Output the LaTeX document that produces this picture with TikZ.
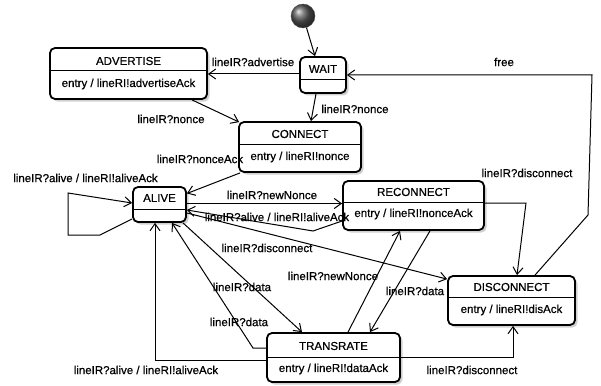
\documentclass[tikz,border=0pt]{standalone}
\usepackage{fontspec}
\setmainfont{Liberation Sans}[FakeBold=0.6]
\usetikzlibrary{arrows.meta,shadows}

\begin{document}
\begin{tikzpicture}[x=1pt,y=-1pt,
  font=\fontsize{11.5}{13}\selectfont,
  state/.style={draw, line width=1.8pt, rounded corners=5pt, fill=white,
    drop shadow={shadow xshift=2.5pt, shadow yshift=-2.5pt, fill=black!30, opacity=0.6},
    inner sep=0pt},
  sep/.style={line width=1pt},
  tr/.style={draw, line width=1pt, -{Straight Barb[length=7pt,width=10pt,line width=1pt]}},
  lbl/.style={inner sep=1pt},
]
\useasboundingbox (0,0) rectangle (601,385);

% initial pseudo-state
\node[circle, minimum size=24pt, inner sep=0pt, shading=ball, ball color=black!65, draw=black!70] (init) at (303,16) {};

% states
\node[state, minimum width=46pt,  minimum height=36pt] (wait)  at (323,75) {};
\node[state, minimum width=157pt, minimum height=51pt] (adv)   at (128.5,73.5) {};
\node[state, minimum width=122pt, minimum height=50pt] (conn)  at (300,147) {};
\node[state, minimum width=53pt,  minimum height=35pt] (alive) at (159.5,204.5) {};
\node[state, minimum width=141pt, minimum height=49pt] (recon) at (413.5,205.5) {};
\node[state, minimum width=127pt, minimum height=49pt] (disc)  at (511.5,300.5) {};
\node[state, minimum width=133pt, minimum height=49pt] (trans) at (333.5,357.5) {};

% compartment separators
\draw[sep] (wait.west |- 0,80)   -- (wait.east |- 0,80);
\draw[sep] (adv.west |- 0,71)    -- (adv.east |- 0,71);
\draw[sep] (conn.west |- 0,144)  -- (conn.east |- 0,144);
\draw[sep] (alive.west |- 0,209) -- (alive.east |- 0,209);
\draw[sep] (recon.west |- 0,202) -- (recon.east |- 0,202);
\draw[sep] (disc.west |- 0,297)  -- (disc.east |- 0,297);
\draw[sep] (trans.west |- 0,357) -- (trans.east |- 0,357);

% state names and entry actions
\node[lbl] (waitN)  at (323,69)     {WAIT};
\node[lbl] (advN)   at (128.5,61)   {ADVERTISE};
\node[lbl] (advE)   at (128.5,84)   {entry / lineRI!advertiseAck};
\node[lbl] (connN)  at (300,134)    {CONNECT};
\node[lbl] (connE)  at (300,157)    {entry / lineRI!nonce};
\node[lbl] (aliveN) at (159.5,198)  {ALIVE};
\node[lbl] (reconN) at (413.5,192)  {RECONNECT};
\node[lbl] (reconE) at (413.5,214)  {entry / lineRI!nonceAck};
\node[lbl] (discN)  at (511.5,287)  {DISCONNECT};
\node[lbl] (discE)  at (511.5,310)  {entry / lineRI!disAck};
\node[lbl] (transN) at (333.5,346)  {TRANSRATE};
\node[lbl] (transE) at (333.5,369)  {entry / lineRI!dataAck};

% transitions
\draw[tr] (init) -- ([xshift=-8pt]wait.north);
\draw[tr] (wait.west |- 0,74) -- (adv.east |- 0,74);
\draw[tr] ([xshift=-7pt]wait.south) -- ([xshift=11pt]conn.north);
\draw[tr] ([xshift=63.5pt]adv.south) -- ([xshift=1pt,yshift=-1pt]conn.north west);
\draw[tr] ([xshift=2pt]conn.south west) -- ([yshift=11pt]alive.east);
\draw[tr] ([yshift=-14.5pt]alive.west) -- (100,235) -- (68,235) -- (68,193) -- ([yshift=1.5pt]alive.west);
\draw[tr] ([yshift=1pt]alive.east) -- ([yshift=1pt]alive.east -| recon.west);
\draw[tr] ([yshift=-15.5pt]recon.west) -- (313,231) -- ([yshift=-5.5pt]alive.east);
\draw[tr] ([yshift=-8.5pt]alive.east) -- ([yshift=-4pt]disc.north west);
\draw[tr] ([yshift=2.5pt]recon.east) -- (526,203) -- ([xshift=5.5pt]disc.north);
\draw[tr] ([xshift=23.5pt]disc.north) -- (588,215) -- (592,75) -- (wait.east);
\draw[tr] ([xshift=23.5pt]alive.south) -- ([xshift=-31.5pt]trans.north);
\draw[tr] ([yshift=9.5pt]trans.west) -- (253,348) -- ([xshift=12.5pt]alive.south);
\draw[tr] ([yshift=-2.5pt]trans.west) -| ([xshift=-4.5pt]alive.south);
\draw[tr] ([xshift=14.5pt]trans.north) -- ([xshift=-13.5pt]recon.south);
\draw[tr] ([xshift=16.5pt]recon.south) -- ([xshift=36.5pt]trans.north);
\draw[tr] (trans.east) -| ([xshift=1.5pt]disc.south);

% transition labels
\node[lbl] (l1)  at (253,62)    {lineIR?advertise};
\node[lbl] (l2)  at (355,109)   {lineIR?nonce};
\node[lbl] (l3)  at (171,119)   {lineIR?nonce};
\node[lbl] (l4)  at (200,159)   {lineIR?nonceAck};
\node[lbl] (l5)  at (85.5,178)  {lineIR?alive / lineRI!aliveAck};
\node[lbl] (l6)  at (272,195)   {lineIR?newNonce};
\node[lbl] (l7)  at (277,217)   {lineIR?alive / lineRI!aliveAck};
\node[lbl] (l8)  at (267,248)   {lineIR?disconnect};
\node[lbl] (l9)  at (527,173)   {lineIR?disconnect};
\node[lbl] (l10) at (504,62)    {free};
\node[lbl] (l11) at (242,287)   {lineIR?data};
\node[lbl] (l12) at (239,322)   {lineIR?data};
\node[lbl] (l13) at (146,370)   {lineIR?alive / lineRI!aliveAck};
\node[lbl] (l14) at (333,276)   {lineIR?newNonce};
\node[lbl] (l15) at (415,291)   {lineIR?data};
\node[lbl] (l16) at (472,370)   {lineIR?disconnect};
\end{tikzpicture}
\end{document}
